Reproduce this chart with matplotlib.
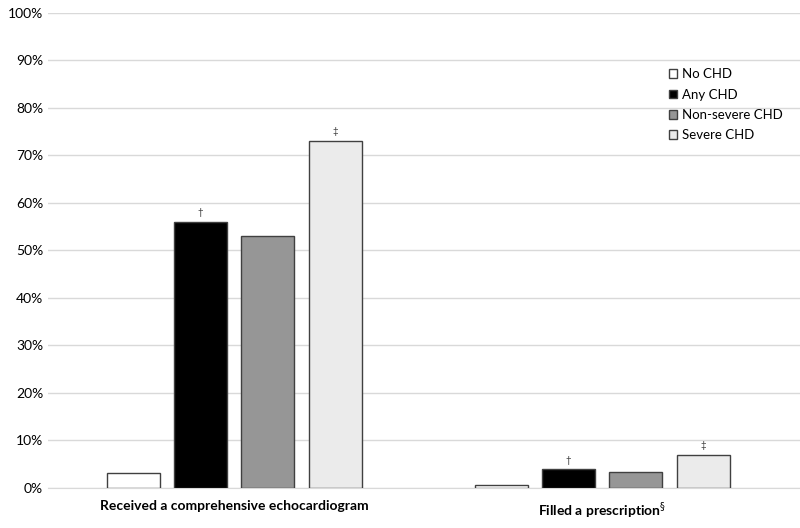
import matplotlib
matplotlib.use("Agg")
import matplotlib.pyplot as plt
import numpy as np
from matplotlib.patches import Patch
from matplotlib.ticker import PercentFormatter

plt.rcParams['font.family'] = ['Lato', 'DejaVu Sans']

categories = ["Received a comprehensive echocardiogram", "Filled a prescription$^{\\S}$"]
groups = ["No CHD", "Any CHD", "Non-severe CHD", "Severe CHD"]
values = {
    "No CHD": [3.1, 0.7],
    "Any CHD": [56, 3.9],
    "Non-severe CHD": [53, 3.4],
    "Severe CHD": [73, 6.9],
}
marks = {"Any CHD": "\u2020", "Severe CHD": "\u2021"}
colors = {"No CHD": "white", "Any CHD": "black",
          "Non-severe CHD": "#969696", "Severe CHD": "#ebebeb"}

fig = plt.figure(figsize=(8, 5.28), dpi=100)
ax = fig.add_axes([0.06, 0.0758, 0.94, 0.8996])

x = np.arange(len(categories))
width = 0.144
pitch = 0.183
for i, g in enumerate(groups):
    pos = x + (i - 1.5) * pitch
    ax.bar(pos, values[g], width, color=colors[g], edgecolor="#404040",
           linewidth=1, zorder=3)
    if g in marks:
        for p, v in zip(pos, values[g]):
            ax.text(p, v + 1.0, marks[g], ha="center", va="bottom",
                    fontsize=7, color="#333333")

ax.set_ylim(0, 100)
ax.set_xlim(-0.506, 1.538)
ax.set_yticks(np.arange(0, 101, 10))
ax.yaxis.set_major_formatter(PercentFormatter(decimals=0))
ax.grid(axis="y", color="#d9d9d9", linewidth=1, zorder=0)
ax.set_xticks(x)
ax.set_xticklabels(categories, fontweight="bold", fontsize=10)
ax.tick_params(axis="both", length=0, labelsize=10, colors="#000000")
ax.tick_params(axis="x", pad=9)
for s in ["top", "right", "left"]:
    ax.spines[s].set_visible(False)
ax.spines["bottom"].set_color("#d9d9d9")

handles = [Patch(facecolor=colors[g], edgecolor="#404040", label=g) for g in groups]
leg = ax.legend(handles=handles, loc="upper left", bbox_to_anchor=(0.815, 0.9),
                frameon=False, fontsize=9.5, handlelength=0.65, handleheight=0.65,
                handletextpad=0.35, labelspacing=0.62, borderaxespad=0.2)

fig.savefig("out.png", dpi=100)
